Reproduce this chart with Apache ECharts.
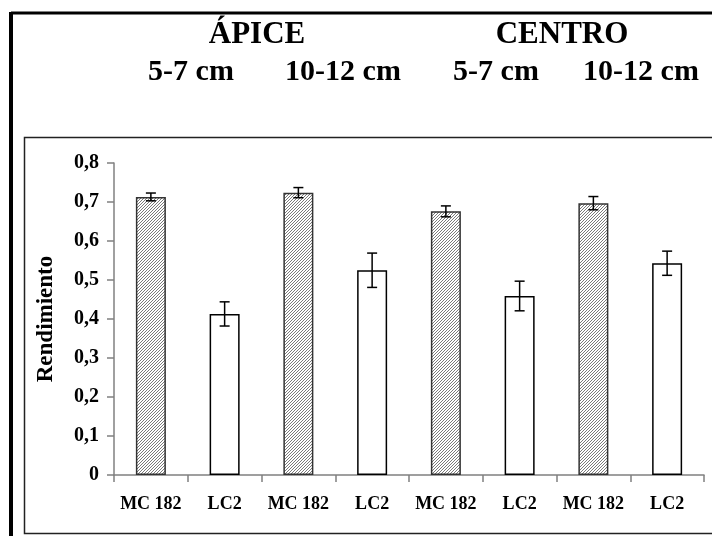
<!DOCTYPE html>
<html>
<head>
<meta charset="utf-8">
<script src="https://cdn.jsdelivr.net/npm/echarts@6/dist/echarts.min.js"></script>
<style>
  html, body { margin: 0; padding: 0; background: #fff; }
  #chart { width: 712px; height: 536px; }
</style>
</head>
<body>
<div id="chart"></div>
<script>
const categories = ['MC 182', 'LC2', 'MC 182', 'LC2', 'MC 182', 'LC2', 'MC 182', 'LC2'];
const means = [0.713, 0.413, 0.724, 0.525, 0.676, 0.459, 0.697, 0.543];
const errors = [0.010, 0.031, 0.013, 0.044, 0.014, 0.038, 0.017, 0.031];
const yTicks = ['0', '0,1', '0,2', '0,3', '0,4', '0,5', '0,6', '0,7', '0,8'];
const groupTitles = ['ÁPICE', 'CENTRO'];
const depthTitles = ['5-7 cm', '10-12 cm', '5-7 cm', '10-12 cm'];

const FONT = '"Liberation Serif", "Times New Roman", serif';

// fine diagonal hatch for the MC 182 bars
function hatch() {
    const c = document.createElement('canvas');
    c.width = 3; c.height = 3;
    const ctx = c.getContext('2d');
    ctx.fillStyle = '#ffffff';
    ctx.fillRect(0, 0, 3, 3);
    ctx.fillStyle = '#7a7a7a';
    ctx.fillRect(0, 2, 1, 1);
    ctx.fillRect(1, 1, 1, 1);
    ctx.fillRect(2, 0, 1, 1);
    return c;
}
const hatchFill = {image: hatch(), repeat: 'repeat'};

const chart = echarts.init(document.getElementById('chart'));

const headerGraphics = [];
const groupX = [257, 562];
groupTitles.forEach((t, i) => headerGraphics.push({
    type: 'text', x: groupX[i], y: 35,
    style: {text: t, font: 'bold 31px ' + FONT, fill: '#000', textAlign: 'center', textVerticalAlign: 'middle'}
}));
const depthX = [191, 343, 496, 641];
depthTitles.forEach((t, i) => headerGraphics.push({
    type: 'text', x: depthX[i], y: 72,
    style: {text: t, font: 'bold 30px ' + FONT, fill: '#000', textAlign: 'center', textVerticalAlign: 'middle'}
}));

const option = {
    animation: false,
    backgroundColor: '#fff',
    grid: {left: 114, right: 8, top: 163, bottom: 61},
    graphic: [
        {type: 'line', shape: {x1: 11, y1: 13, x2: 720, y2: 13}, style: {stroke: '#000', lineWidth: 3}},
        {type: 'line', shape: {x1: 11, y1: 12, x2: 11, y2: 540}, style: {stroke: '#000', lineWidth: 4}},
        {type: 'rect', shape: {x: 24.5, y: 137.5, width: 700, height: 396}, style: {fill: 'none', stroke: '#222', lineWidth: 1.5}},
        ...headerGraphics
    ],
    xAxis: {
        type: 'category',
        data: categories,
        axisLine: {lineStyle: {color: '#808080', width: 1.5}},
        axisTick: {show: true, length: 7, interval: 0, lineStyle: {color: '#808080', width: 1.5}},
        axisLabel: {interval: 0, margin: 20, fontFamily: FONT, fontWeight: 'bold', fontSize: 18, color: '#000'}
    },
    yAxis: {
        type: 'value',
        min: 0, max: 0.8, interval: 0.1,
        name: 'Rendimiento',
        nameLocation: 'middle',
        nameGap: 56,
        nameTextStyle: {fontFamily: FONT, fontWeight: 'bold', fontSize: 23, color: '#000'},
        axisLine: {show: true, lineStyle: {color: '#808080', width: 1.5}},
        axisTick: {show: true, length: 7, lineStyle: {color: '#808080', width: 1.5}},
        splitLine: {show: false},
        axisLabel: {
            margin: 15, fontFamily: FONT, fontWeight: 'bold', fontSize: 20, color: '#000',
            formatter: (v) => yTicks[Math.round(v * 10)]
        }
    },
    series: [
        {
            type: 'bar',
            barWidth: 30,
            data: means.map((v, i) => ({
                value: v,
                itemStyle: {
                    color: i % 2 === 0 ? hatchFill : '#ffffff',
                    borderColor: i % 2 === 0 ? '#333' : '#000',
                    borderWidth: 1.5
                }
            }))
        },
        {
            type: 'custom',
            data: means.map((v, i) => [i, v - errors[i], v + errors[i]]),
            renderItem: function (params, api) {
                const lo = api.coord([api.value(0), api.value(1)]);
                const hi = api.coord([api.value(0), api.value(2)]);
                const half = 5;
                const st = {stroke: '#000', lineWidth: 1.5};
                return {
                    type: 'group',
                    children: [
                        {type: 'line', shape: {x1: hi[0], y1: hi[1], x2: lo[0], y2: lo[1]}, style: st},
                        {type: 'line', shape: {x1: hi[0] - half, y1: hi[1], x2: hi[0] + half, y2: hi[1]}, style: st},
                        {type: 'line', shape: {x1: lo[0] - half, y1: lo[1], x2: lo[0] + half, y2: lo[1]}, style: st}
                    ]
                };
            },
            z: 5
        }
    ]
};

chart.setOption(option);
</script>
</body>
</html>
